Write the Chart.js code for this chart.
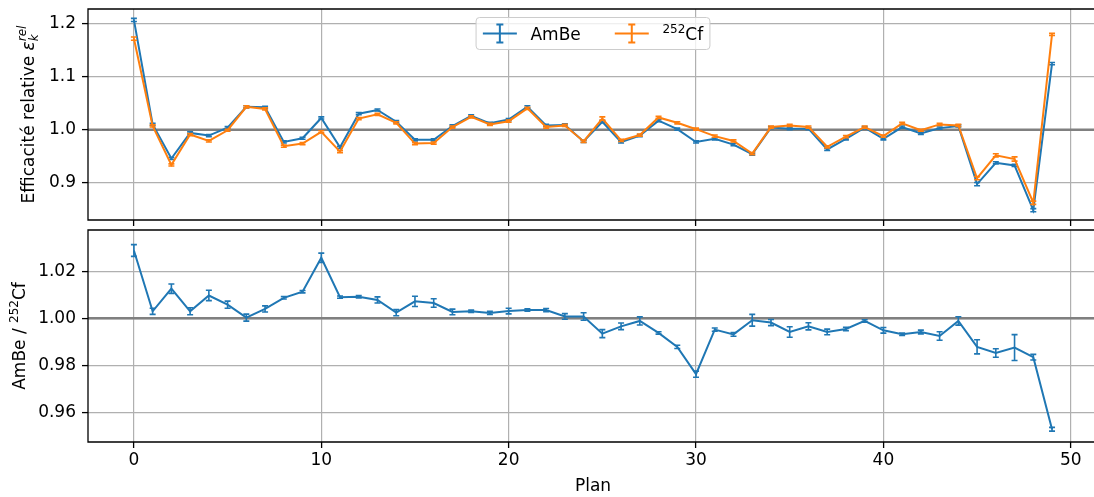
<!DOCTYPE html>
<html>
<head>
<meta charset="utf-8">
<script src="https://cdn.jsdelivr.net/npm/chart.js@4.4.1/dist/chart.umd.min.js"></script>
<style>
  html, body { margin: 0; padding: 0; background: #fff; overflow: hidden; }
  #wrap { position: relative; width: 1094px; height: 497px; overflow: hidden; background: #fff; }
  canvas { position: absolute; left: 0; }
  #haut { top: 0; width: 1094px; height: 226px; }
  #bas { top: 226px; width: 1094px; height: 271px; }
</style>
</head>
<body>
<div id="wrap">
  <canvas id="haut" width="1094" height="226"></canvas>
  <canvas id="bas" width="1094" height="271"></canvas>
</div>
<script>
// données
const plans = [0, 1, 2, 3, 4, 5, 6, 7, 8, 9, 10, 11, 12, 13, 14, 15, 16, 17, 18, 19,
               20, 21, 22, 23, 24, 25, 26, 27, 28, 29, 30, 31, 32, 33, 34, 35, 36, 37, 38, 39,
               40, 41, 42, 43, 44, 45, 46, 47, 48, 49];

const effAmBe = [1.206, 1.010, 0.946, 0.994, 0.989, 1.004, 1.043, 1.042, 0.977, 0.984,
                 1.022, 0.967, 1.030, 1.037, 1.015, 0.981, 0.981, 1.007, 1.026, 1.012,
                 1.019, 1.043, 1.008, 1.009, 0.978, 1.015, 0.977, 0.989, 1.017, 1.001,
                 0.977, 0.983, 0.972, 0.954, 1.004, 1.002, 1.002, 0.963, 0.983, 1.004,
                 0.983, 1.005, 0.993, 1.003, 1.007, 0.898, 0.938, 0.933, 0.849, 1.124];
const errAmBe = [0.003, 0.002, 0.002, 0.002, 0.002, 0.002, 0.002, 0.002, 0.002, 0.002,
                 0.002, 0.002, 0.002, 0.002, 0.002, 0.002, 0.002, 0.002, 0.002, 0.002,
                 0.002, 0.002, 0.002, 0.002, 0.002, 0.002, 0.002, 0.002, 0.002, 0.002,
                 0.002, 0.002, 0.002, 0.002, 0.002, 0.002, 0.002, 0.002, 0.002, 0.002,
                 0.002, 0.002, 0.002, 0.002, 0.002, 0.003, 0.002, 0.002, 0.003, 0.002];

const effCf = [1.171, 1.007, 0.934, 0.991, 0.979, 0.999, 1.043, 1.039, 0.969, 0.974,
               0.996, 0.959, 1.021, 1.029, 1.013, 0.974, 0.975, 1.005, 1.024, 1.010,
               1.016, 1.040, 1.005, 1.008, 0.978, 1.021, 0.980, 0.990, 1.023, 1.013,
               1.001, 0.988, 0.979, 0.955, 1.005, 1.008, 1.005, 0.968, 0.987, 1.005,
               0.988, 1.012, 0.999, 1.010, 1.008, 0.909, 0.952, 0.945, 0.863, 1.179];
const errCf = [0.003, 0.002, 0.002, 0.002, 0.002, 0.002, 0.002, 0.002, 0.002, 0.002,
               0.002, 0.002, 0.002, 0.002, 0.002, 0.002, 0.002, 0.002, 0.002, 0.002,
               0.002, 0.002, 0.002, 0.002, 0.002, 0.003, 0.002, 0.002, 0.002, 0.002,
               0.002, 0.002, 0.002, 0.002, 0.002, 0.002, 0.002, 0.002, 0.002, 0.002,
               0.002, 0.002, 0.002, 0.002, 0.002, 0.003, 0.003, 0.004, 0.003, 0.002];

const rapport = [1.0288, 1.0030, 1.0126, 1.0030, 1.0097, 1.0058, 1.0003, 1.0040, 1.0087, 1.0113,
                 1.0257, 1.0090, 1.0092, 1.0078, 1.0024, 1.0072, 1.0065, 1.0027, 1.0030, 1.0023,
                 1.0031, 1.0035, 1.0035, 1.0008, 1.0008, 0.9935, 0.9966, 0.9989, 0.9938, 0.9879,
                 0.9763, 0.9952, 0.9932, 0.9992, 0.9982, 0.9942, 0.9966, 0.9942, 0.9955, 0.9989,
                 0.9949, 0.9932, 0.9942, 0.9925, 0.9989, 0.9879, 0.9853, 0.9876, 0.9835, 0.9529];
const errRapport = [0.0025, 0.0013, 0.0020, 0.0015, 0.0022, 0.0015, 0.0015, 0.0013, 0.0005, 0.0005,
                    0.0020, 0.0005, 0.0005, 0.0013, 0.0013, 0.0022, 0.0018, 0.0012, 0.0005, 0.0007,
                    0.0012, 0.0005, 0.0007, 0.0012, 0.0016, 0.0017, 0.0014, 0.0017, 0.0005, 0.0007,
                    0.0013, 0.0007, 0.0008, 0.0025, 0.0013, 0.0022, 0.0015, 0.0012, 0.0007, 0.0005,
                    0.0012, 0.0005, 0.0008, 0.0018, 0.0018, 0.0030, 0.0018, 0.0055, 0.0012, 0.0008];

const ticksX = [0, 10, 20, 30, 40, 50];
const ticksHaut = [0.9, 1.0, 1.1, 1.2];
const ticksBas = [0.96, 0.98, 1.00, 1.02];
const ligneRef = 1.0;

const BLEU = '#1f77b4';
const ORANGE = '#ff7f0e';
const POLICE = "'DejaVu Sans'";
const TAILLE = 17;

Chart.defaults.font.family = POLICE;
Chart.defaults.font.size = TAILLE;
Chart.defaults.color = '#000';
Chart.defaults.animation = false;

function points(valeurs) {
    return plans.map((p, i) => ({ x: p, y: valeurs[i] }));
}

// dessine une suite de groupes de texte (exposants / indices)
function largeurGroupes(ctx, groupes) {
    let w = 0;
    groupes.forEach(g => {
        let m = 0;
        g.forEach(r => { ctx.font = r.f; m = Math.max(m, ctx.measureText(r.t).width); });
        w += m;
    });
    return w;
}
function dessinerGroupes(ctx, groupes, x, y) {
    groupes.forEach(g => {
        let m = 0;
        g.forEach(r => {
            ctx.font = r.f;
            ctx.fillText(r.t, x, y + (r.dy || 0));
            m = Math.max(m, ctx.measureText(r.t).width);
        });
        x += m;
    });
}
const fNormal = TAILLE + 'px ' + POLICE;
const fPetit = Math.round(TAILLE * 0.7) + 'px ' + POLICE;
const fItal = 'italic ' + TAILLE + 'px ' + POLICE;
const fItalPetit = 'italic ' + Math.round(TAILLE * 0.7) + 'px ' + POLICE;

function titreVertical(groupes, xBase) {
    return {
        id: 'titreY',
        afterDraw(chart) {
            const ctx = chart.ctx, a = chart.chartArea;
            ctx.save();
            ctx.fillStyle = '#000';
            ctx.textBaseline = 'alphabetic';
            ctx.textAlign = 'left';
            const w = largeurGroupes(ctx, groupes);
            ctx.translate(xBase, (a.top + a.bottom) / 2);
            ctx.rotate(-Math.PI / 2);
            dessinerGroupes(ctx, groupes, -w / 2, 0);
            ctx.restore();
        }
    };
}

const pluginErreurs = {
    id: 'erreurs',
    afterDatasetDraw(chart, args) {
        const ds = chart.data.datasets[args.index];
        if (!ds.erreurs) return;
        const ctx = chart.ctx, sx = chart.scales.x, sy = chart.scales.y;
        ctx.save();
        ctx.strokeStyle = ds.borderColor;
        ctx.lineWidth = 1.6;
        ds.data.forEach((p, i) => {
            const e = ds.erreurs[i];
            const px = sx.getPixelForValue(p.x);
            const y1 = sy.getPixelForValue(p.y - e);
            const y2 = sy.getPixelForValue(p.y + e);
            ctx.beginPath();
            ctx.moveTo(px, y1); ctx.lineTo(px, y2);
            ctx.moveTo(px - 3, y1); ctx.lineTo(px + 3, y1);
            ctx.moveTo(px - 3, y2); ctx.lineTo(px + 3, y2);
            ctx.stroke();
        });
        ctx.restore();
    }
};

const pluginRef = {
    id: 'ligneRef',
    beforeDatasetsDraw(chart) {
        const ctx = chart.ctx, a = chart.chartArea;
        const y = chart.scales.y.getPixelForValue(ligneRef);
        ctx.save();
        ctx.strokeStyle = '#808080';
        ctx.lineWidth = 2.5;
        ctx.beginPath();
        ctx.moveTo(a.left, y); ctx.lineTo(a.right, y);
        ctx.stroke();
        ctx.restore();
    }
};

// cadre : le bord droit tombe hors de l'image, on ne trace que les trois autres
const pluginCadre = {
    id: 'cadre',
    afterDatasetsDraw(chart) {
        const ctx = chart.ctx, a = chart.chartArea;
        ctx.save();
        ctx.strokeStyle = '#000';
        ctx.lineWidth = 1.3;
        ctx.beginPath();
        ctx.moveTo(a.right, a.top); ctx.lineTo(a.left, a.top);
        ctx.lineTo(a.left, a.bottom); ctx.lineTo(a.right, a.bottom);
        ctx.stroke();
        ctx.restore();
    }
};

// légende façon matplotlib, en haut au centre
const pluginLegende = {
    id: 'legendeErr',
    afterDraw(chart) {
        const ctx = chart.ctx, a = chart.chartArea;
        const em = TAILLE;
        const entrees = [
            { couleur: BLEU, groupes: [[{ t: 'AmBe', f: fNormal }]] },
            { couleur: ORANGE, groupes: [[{ t: '252', f: fPetit, dy: -7 }], [{ t: 'Cf', f: fNormal }]] }
        ];
        const lgPoignee = 2 * em, pad = 0.4 * em, txtPad = 0.8 * em, colSp = 2 * em;
        let largeur = 2 * pad;
        entrees.forEach((e, i) => {
            e.w = largeurGroupes(ctx, e.groupes);
            largeur += lgPoignee + txtPad + e.w + (i > 0 ? colSp : 0);
        });
        const hauteur = 32;
        // centre de la zone de tracé complète (le bord droit est à 1097.7 px)
        const x0 = 593 - largeur / 2;
        const y0 = a.top + 0.5 * em;
        ctx.save();
        ctx.fillStyle = 'rgba(255,255,255,0.8)';
        ctx.strokeStyle = '#cccccc';
        ctx.lineWidth = 1;
        ctx.beginPath();
        ctx.roundRect(x0, y0, largeur, hauteur, 3.5);
        ctx.fill();
        ctx.stroke();
        const yc = y0 + hauteur / 2;
        let x = x0 + pad;
        entrees.forEach((e, i) => {
            if (i > 0) x += colSp;
            ctx.strokeStyle = e.couleur;
            ctx.lineWidth = 2;
            ctx.beginPath();
            ctx.moveTo(x, yc); ctx.lineTo(x + lgPoignee, yc);
            const xm = x + lgPoignee / 2;
            ctx.moveTo(xm, yc - 9); ctx.lineTo(xm, yc + 9);
            ctx.moveTo(xm - 3.5, yc - 9); ctx.lineTo(xm + 3.5, yc - 9);
            ctx.moveTo(xm - 3.5, yc + 9); ctx.lineTo(xm + 3.5, yc + 9);
            ctx.stroke();
            x += lgPoignee + txtPad;
            ctx.fillStyle = '#000';
            ctx.textBaseline = 'alphabetic';
            ctx.textAlign = 'left';
            dessinerGroupes(ctx, e.groupes, x, yc + 6.5);
            x += e.w;
        });
        ctx.restore();
    }
};

function grille() {
    return { color: '#b0b0b0', lineWidth: 1.2, tickColor: '#000', tickLength: 6, tickWidth: 1.3 };
}

// pas de marge automatique autour des axes : la zone de tracé est fixée
function sansMarge(s) {
    s.paddingTop = 0; s.paddingBottom = 0; s.paddingLeft = 0; s.paddingRight = 0;
}

function axeX(avecLabels) {
    return {
        type: 'linear',
        min: -2.45,
        max: 51.24,
        afterBuildTicks: s => { s.ticks = ticksX.map(v => ({ value: v })); },
        ticks: { display: avecLabels, padding: 2, maxRotation: 0, callback: v => String(v) },
        grid: grille(),
        border: { display: false },
        title: { display: false },
        afterFit: s => { s.height = avecLabels ? 55 : 6; sansMarge(s); }
    };
}

function axeY(min, max, ticks, dec) {
    return {
        type: 'linear',
        min: min,
        max: max,
        afterBuildTicks: s => { s.ticks = ticks.map(v => ({ value: v })); },
        ticks: { padding: 6, callback: v => Number(v).toFixed(dec) },
        grid: grille(),
        border: { display: false },
        afterFit: s => { s.width = 88; sansMarge(s); }
    };
}

// titre de l'axe x, centré sur la zone de tracé complète
const pluginTitreX = {
    id: 'titreX',
    afterDraw(chart) {
        const ctx = chart.ctx;
        ctx.save();
        ctx.fillStyle = '#000';
        ctx.font = fNormal;
        ctx.textAlign = 'center';
        ctx.textBaseline = 'alphabetic';
        ctx.fillText('Plan', 593, chart.height - 6);
        ctx.restore();
    }
};

const optionsCommunes = {
    responsive: false,
    devicePixelRatio: 1,
    animation: false,
    events: [],
    plugins: { legend: { display: false }, tooltip: { enabled: false } }
};

new Chart(document.getElementById('haut'), {
    type: 'line',
    data: {
        datasets: [
            { label: 'AmBe', data: points(effAmBe), erreurs: errAmBe, borderColor: BLEU,
              borderWidth: 2, pointRadius: 0, tension: 0, order: 1 },
            { label: '252Cf', data: points(effCf), erreurs: errCf, borderColor: ORANGE,
              borderWidth: 2, pointRadius: 0, tension: 0, order: 0 }
        ]
    },
    options: Object.assign({}, optionsCommunes, {
        layout: { padding: { top: 9, left: 0, right: 0, bottom: 0 } },
        scales: { x: axeX(false), y: axeY(0.8306, 1.2265, ticksHaut, 1) }
    }),
    plugins: [pluginRef, pluginErreurs, pluginCadre, pluginLegende,
        titreVertical([[{ t: 'Efficacité relative ', f: fNormal }], [{ t: 'ε', f: fItal }],
                       [{ t: 'k', f: fItalPetit, dy: 4 }, { t: 'rel', f: fItalPetit, dy: -8 }]], 34)]
});

new Chart(document.getElementById('bas'), {
    type: 'line',
    data: {
        datasets: [
            { label: 'AmBe / 252Cf', data: points(rapport), erreurs: errRapport, borderColor: BLEU,
              borderWidth: 2, pointRadius: 0, tension: 0 }
        ]
    },
    options: Object.assign({}, optionsCommunes, {
        layout: { padding: { top: 4, left: 0, right: 0, bottom: 0 } },
        scales: { x: axeX(true), y: axeY(0.9475, 1.0375, ticksBas, 2) }
    }),
    plugins: [pluginRef, pluginErreurs, pluginCadre, pluginTitreX,
        titreVertical([[{ t: 'AmBe / ', f: fNormal }], [{ t: '252', f: fPetit, dy: -7 }],
                       [{ t: 'Cf', f: fNormal }]], 25)]
});
</script>
</body>
</html>
